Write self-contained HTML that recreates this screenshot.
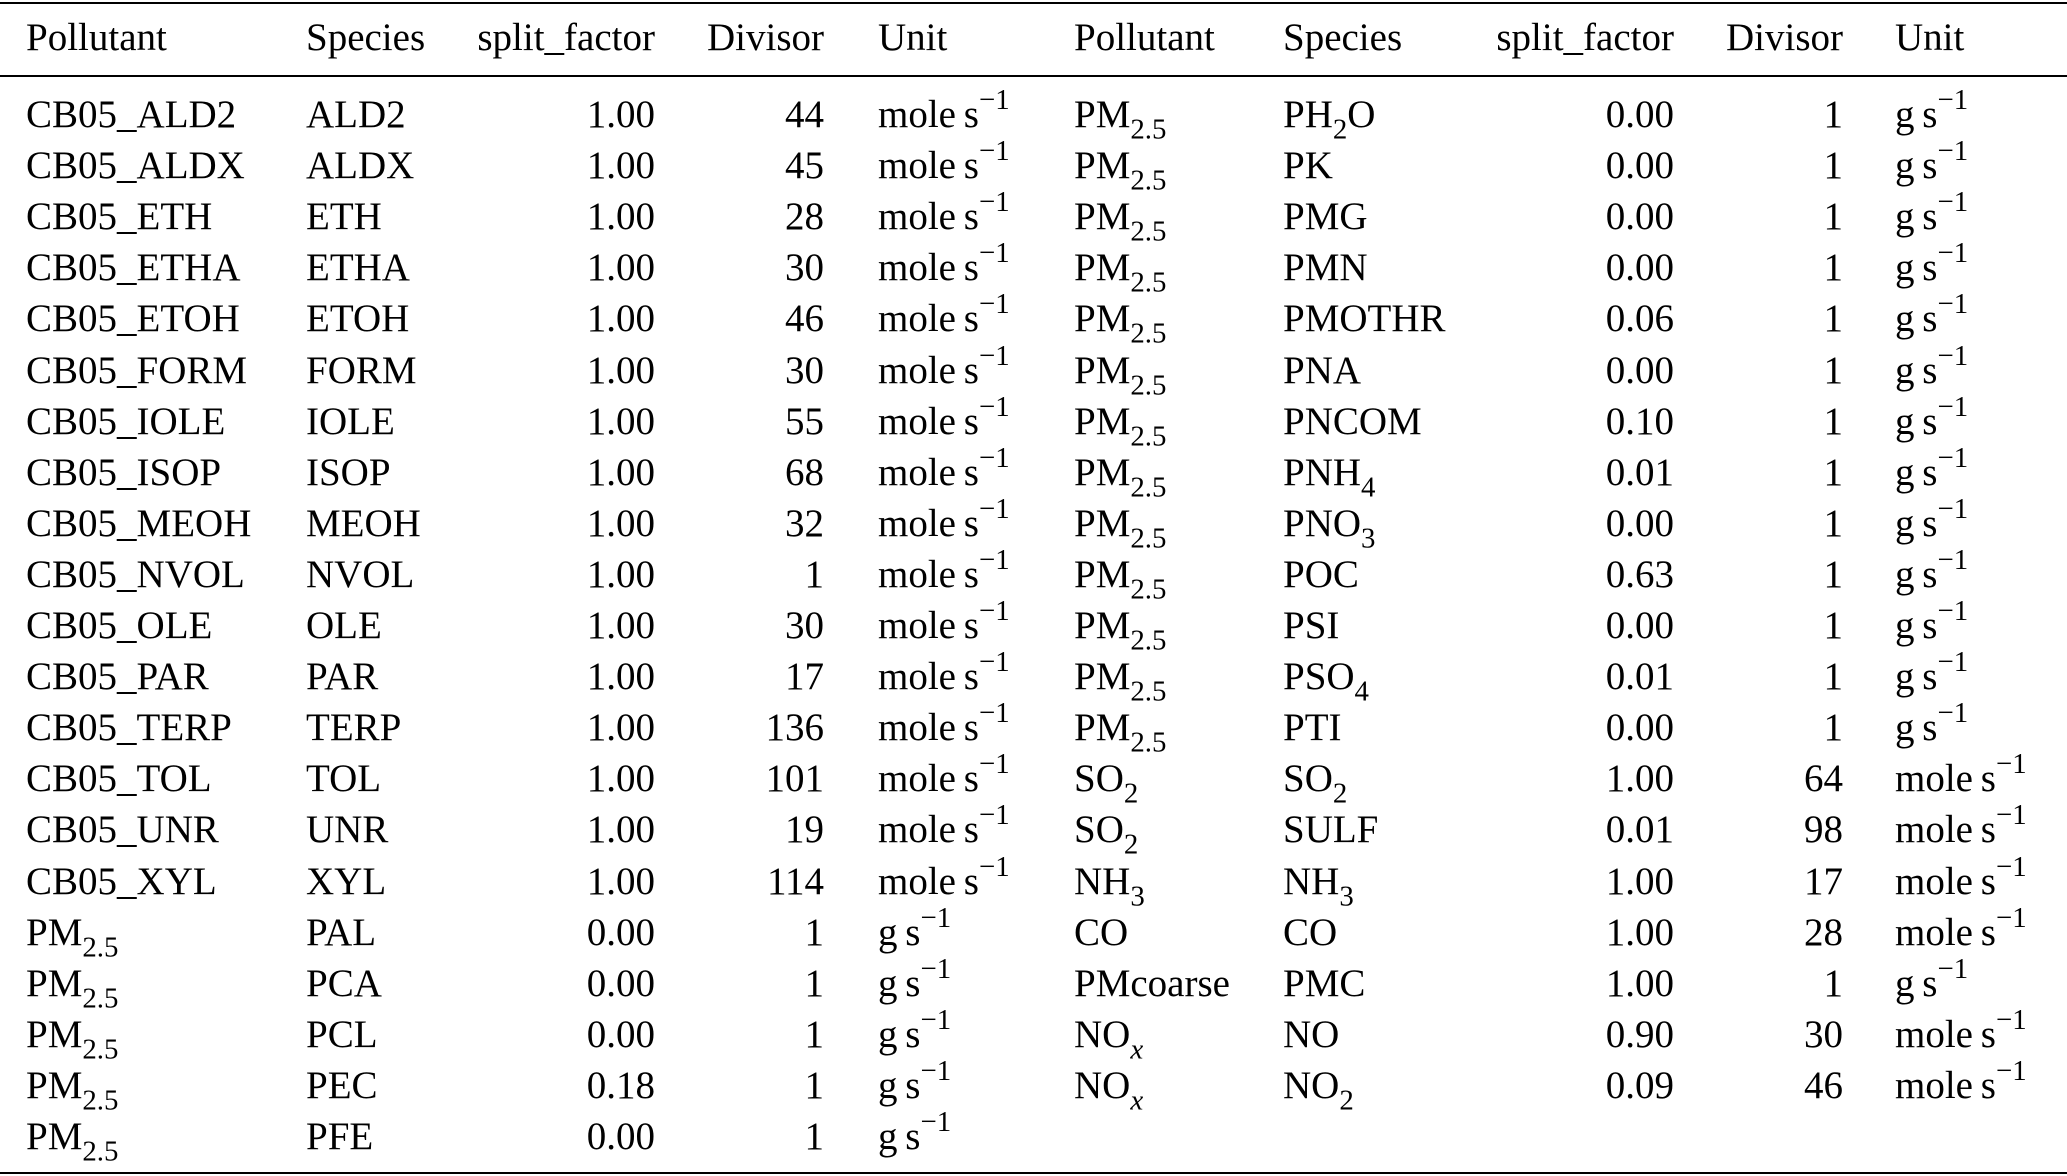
<!DOCTYPE html>
<html><head><meta charset="utf-8">
<style>
body{margin:0;background:#fff;}
#page{position:relative;width:2067px;height:1176px;overflow:hidden;background:#fff;font-family:"Liberation Serif",serif;font-size:39px;color:#000;}
.rule{position:absolute;left:0;width:2067px;background:#000;}
.c{position:absolute;white-space:nowrap;line-height:1;}
.r{text-align:right;}
sub{font-size:74%;vertical-align:-0.4em;line-height:0;}
sup{font-size:74%;vertical-align:0.62em;line-height:0;}
</style></head>
<body>
<div id="page">
<div class="rule" style="top:2px;height:2px"></div>
<div class="rule" style="top:75px;height:2px"></div>
<div class="rule" style="top:1172px;height:2px"></div>
</div>
<script>
const headers = ["Pollutant","Species","split_factor","Divisor","Unit"];
const M = 'mole\u2009s<sup>−1</sup>', G = 'g\u2009s<sup>−1</sup>', PM = 'PM<sub>2.5</sub>';
const leftPollutant = ["CB05_ALD2","CB05_ALDX","CB05_ETH","CB05_ETHA","CB05_ETOH","CB05_FORM","CB05_IOLE","CB05_ISOP","CB05_MEOH","CB05_NVOL","CB05_OLE","CB05_PAR","CB05_TERP","CB05_TOL","CB05_UNR","CB05_XYL",PM,PM,PM,PM,PM];
const leftSpecies = ["ALD2","ALDX","ETH","ETHA","ETOH","FORM","IOLE","ISOP","MEOH","NVOL","OLE","PAR","TERP","TOL","UNR","XYL","PAL","PCA","PCL","PEC","PFE"];
const leftSplit = ["1.00","1.00","1.00","1.00","1.00","1.00","1.00","1.00","1.00","1.00","1.00","1.00","1.00","1.00","1.00","1.00","0.00","0.00","0.00","0.18","0.00"];
const leftDivisor = ["44","45","28","30","46","30","55","68","32","1","30","17","136","101","19","114","1","1","1","1","1"];
const leftUnit = [M,M,M,M,M,M,M,M,M,M,M,M,M,M,M,M,G,G,G,G,G];
const rightPollutant = [PM,PM,PM,PM,PM,PM,PM,PM,PM,PM,PM,PM,PM,"SO<sub>2</sub>","SO<sub>2</sub>","NH<sub>3</sub>","CO","PMcoarse","NO<sub><i>x</i></sub>","NO<sub><i>x</i></sub>"];
const rightSpecies = ["PH<sub>2</sub>O","PK","PMG","PMN","PMOTHR","PNA","PNCOM","PNH<sub>4</sub>","PNO<sub>3</sub>","POC","PSI","PSO<sub>4</sub>","PTI","SO<sub>2</sub>","SULF","NH<sub>3</sub>","CO","PMC","NO","NO<sub>2</sub>"];
const rightSplit = ["0.00","0.00","0.00","0.00","0.06","0.00","0.10","0.01","0.00","0.63","0.00","0.01","0.00","1.00","0.01","1.00","1.00","1.00","0.90","0.09"];
const rightDivisor = ["1","1","1","1","1","1","1","1","1","1","1","1","1","64","98","17","28","1","30","46"];
const rightUnit = [G,G,G,G,G,G,G,G,G,G,G,G,G,M,M,M,M,G,M,M];

const page = document.getElementById('page');
const colL = [26,306,655,824,878], colR = [1074,1283,1674,1843,1895];
const align = ['l','l','r','r','l'];
const names = ['pollutant','species','split-factor','divisor','unit'];
function put(html, x, al, cy){
  const d = document.createElement('div');
  d.className = 'c' + (al==='r' ? ' r' : '');
  d.innerHTML = html;
  if (al==='r'){ d.style.right = (2067 - x) + 'px'; } else { d.style.left = x + 'px'; }
  d.style.top = (cy - 18) + 'px';
  page.appendChild(d);
  return d;
}
function rowY(i){ return 113 + i*51.1; }
for (let k=0;k<5;k++){
  let h = put(headers[k], colL[k], align[k], 36);
  
  
  h = put(headers[k], colR[k], align[k], 36);
  
  
}
const L = [leftPollutant,leftSpecies,leftSplit,leftDivisor,leftUnit];
const R = [rightPollutant,rightSpecies,rightSplit,rightDivisor,rightUnit];
for (let i=0;i<leftSpecies.length;i++){
  for (let k=0;k<5;k++){
    const e = put(L[k][i], colL[k], align[k], rowY(i));
    
    
  }
}
for (let i=0;i<rightSpecies.length;i++){
  for (let k=0;k<5;k++){
    const e = put(R[k][i], colR[k], align[k], rowY(i));
    
    
  }
}
</script>
</body></html>
